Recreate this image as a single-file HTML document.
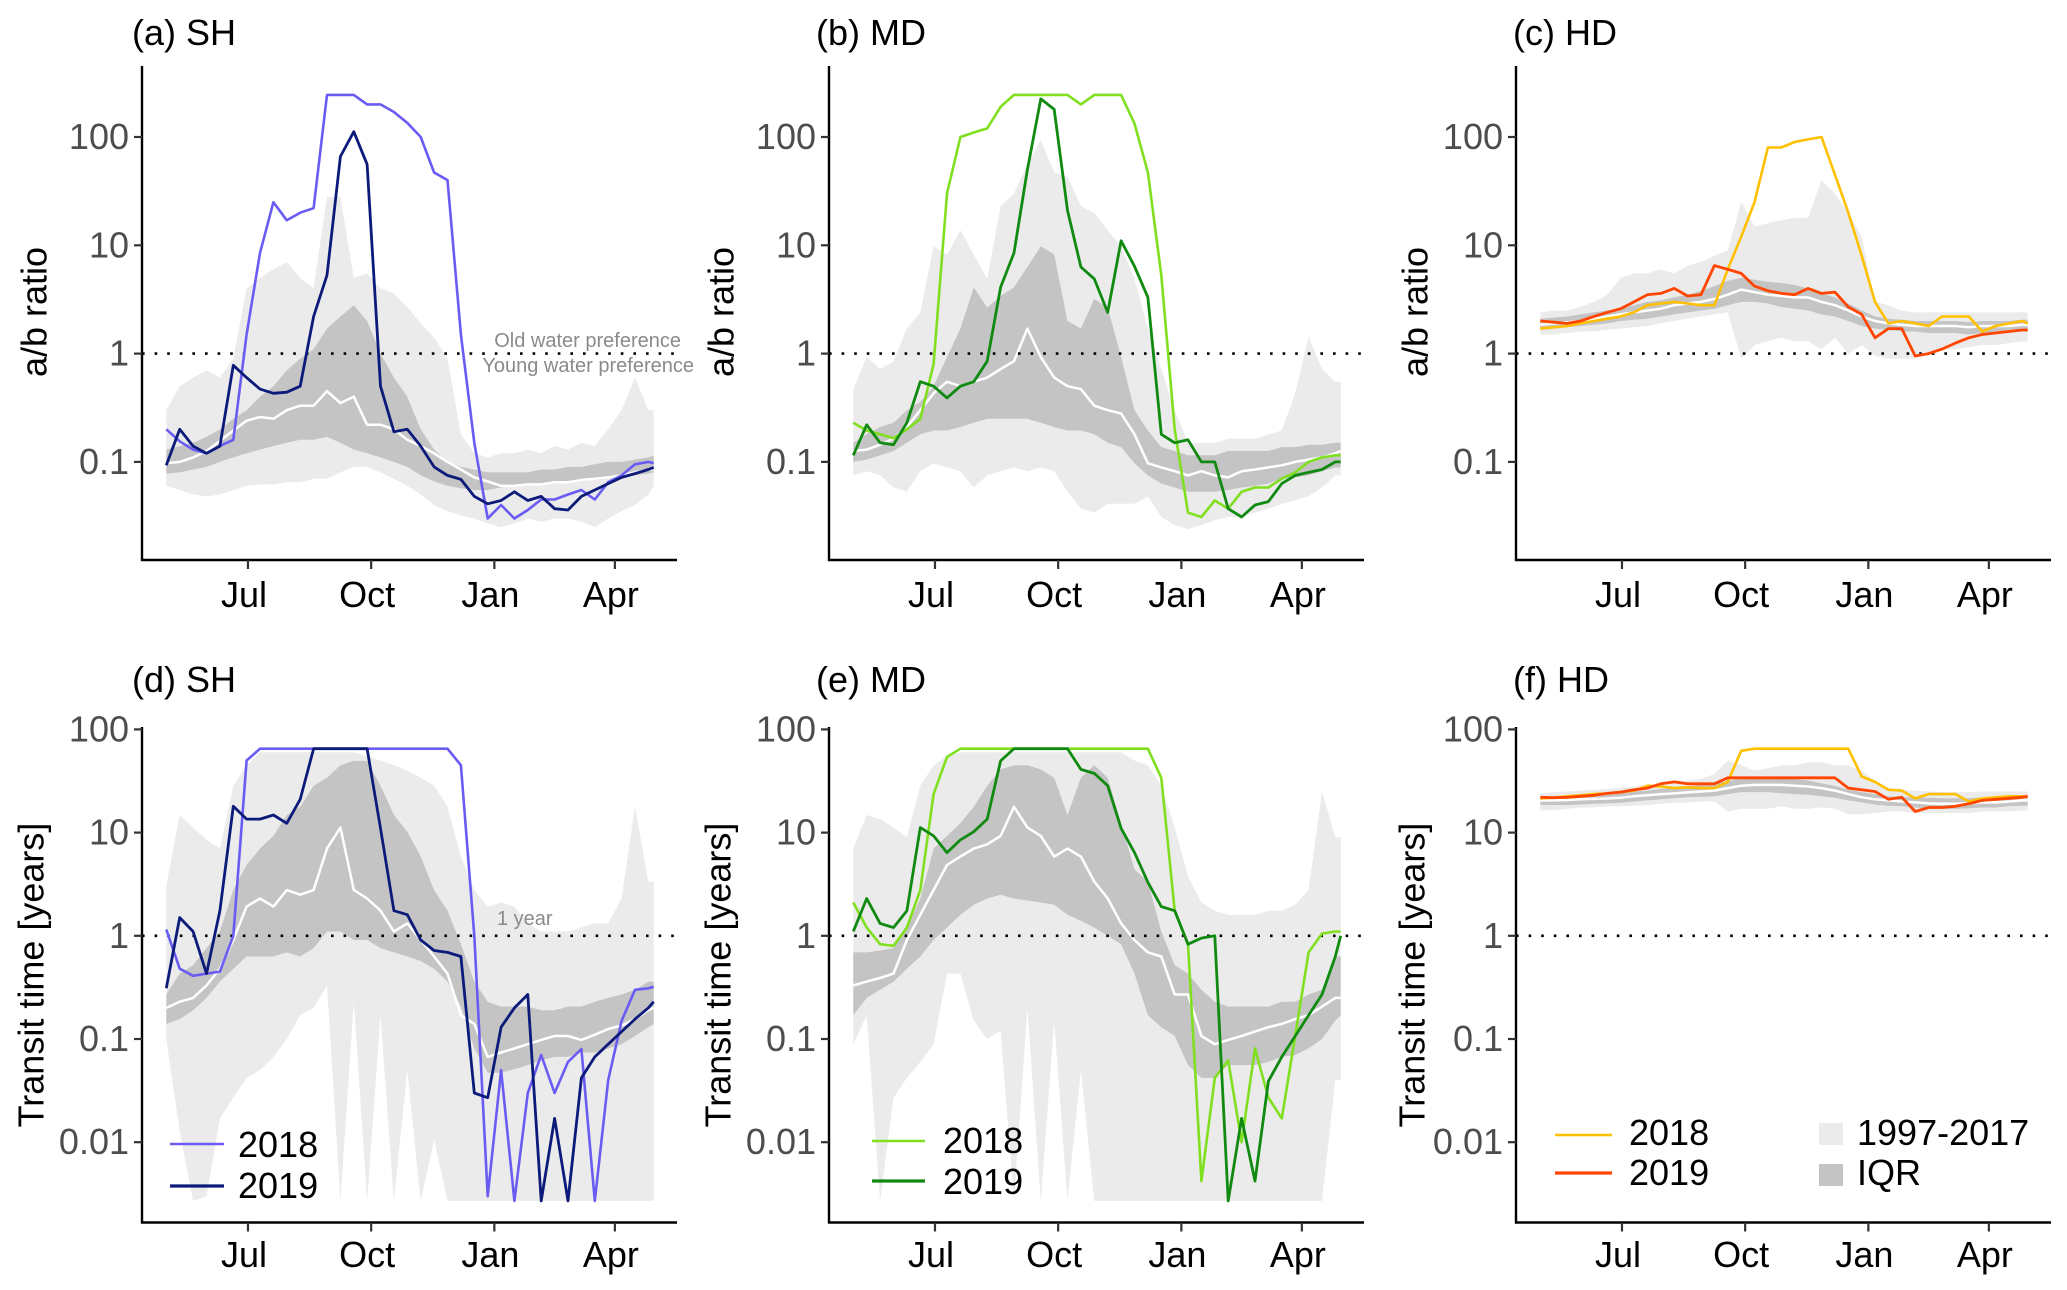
<!DOCTYPE html>
<html><head><meta charset="utf-8"><style>
html,body{margin:0;padding:0;background:#fff;}
svg{display:block;font-family:"Liberation Sans",Arial,sans-serif;}
</style></head><body>
<svg id="fig" width="2067" height="1290" viewBox="0 0 2067 1290" xmlns="http://www.w3.org/2000/svg"></svg>
<script>
const days=[0,10,20,30,40,50,60,70,80,90,100,110,120,130,140,150,160,170,180,190,200,210,220,230,240,250,260,270,280,290,300,310,320,330,340,350,360,364];
const monthLabels=["Jul","Oct","Jan","Apr"];
const monthDays=[61,153,245,335];
const ratioTicks=[100,10,1,0.1];
const ratioTickLabels=["100","10","1","0.1"];
const transitTicks=[100,10,1,0.1,0.01];
const transitTickLabels=["100","10","1","0.1","0.01"];

// (a) SH ratio
const a2018=[0.2,0.155,0.13,0.12,0.14,0.16,1.5,8.5,25,17,20,22,245,245,245,200,200,170,135,100,47,40,1.5,0.15,0.03,0.04,0.03,0.036,0.045,0.045,0.05,0.055,0.045,0.065,0.075,0.095,0.1,0.097];
const a2019=[0.093,0.2,0.14,0.12,0.14,0.78,0.6,0.47,0.43,0.44,0.5,2.2,5.3,66,112,56,0.5,0.19,0.2,0.14,0.09,0.075,0.069,0.048,0.041,0.044,0.053,0.044,0.048,0.037,0.036,0.048,0.055,0.063,0.072,0.078,0.085,0.089];
const aMed=[0.097,0.1,0.11,0.126,0.156,0.195,0.24,0.26,0.25,0.3,0.33,0.33,0.45,0.35,0.4,0.22,0.22,0.2,0.16,0.14,0.12,0.1,0.085,0.072,0.066,0.06,0.06,0.062,0.062,0.065,0.065,0.068,0.07,0.072,0.075,0.08,0.085,0.085];
const aQ75=[0.13,0.14,0.15,0.17,0.2,0.25,0.3,0.4,0.5,0.7,0.9,1.1,1.7,2.2,2.8,2.0,1.0,0.6,0.4,0.2,0.13,0.1,0.09,0.085,0.08,0.08,0.08,0.08,0.085,0.085,0.09,0.09,0.095,0.1,0.1,0.105,0.11,0.115];
const aQ25=[0.078,0.08,0.085,0.09,0.1,0.11,0.12,0.13,0.14,0.15,0.16,0.16,0.17,0.15,0.13,0.12,0.11,0.1,0.09,0.075,0.066,0.06,0.057,0.055,0.055,0.058,0.06,0.062,0.063,0.065,0.065,0.066,0.068,0.07,0.072,0.075,0.078,0.08];
const aMax=[0.3,0.5,0.6,0.7,0.6,0.9,4,5,6,7,5,4,28,28,5,5.5,4,3.6,2.7,1.9,1.4,0.9,0.18,0.12,0.11,0.12,0.12,0.13,0.12,0.14,0.13,0.15,0.14,0.2,0.3,0.6,0.3,0.3];
const aMin=[0.06,0.055,0.05,0.048,0.05,0.055,0.06,0.062,0.062,0.065,0.065,0.07,0.07,0.08,0.09,0.09,0.08,0.07,0.06,0.05,0.04,0.035,0.032,0.03,0.027,0.025,0.027,0.03,0.028,0.03,0.03,0.028,0.025,0.03,0.035,0.04,0.05,0.06];

// (b) MD ratio
const b2018=[0.23,0.195,0.18,0.165,0.2,0.25,0.8,30,100,110,120,190,245,245,245,245,245,200,245,245,245,133,47,5.3,0.2,0.034,0.031,0.044,0.037,0.053,0.058,0.058,0.07,0.08,0.1,0.11,0.115,0.115];
const b2019=[0.115,0.22,0.15,0.144,0.23,0.55,0.5,0.39,0.5,0.55,0.85,4.1,8.5,50,225,180,21,6.3,4.9,2.4,11,6.4,3.3,0.18,0.15,0.16,0.1,0.1,0.037,0.031,0.04,0.043,0.063,0.075,0.08,0.085,0.1,0.1];
const bMed=[0.126,0.13,0.144,0.164,0.21,0.3,0.43,0.55,0.5,0.55,0.6,0.72,0.85,1.7,0.93,0.6,0.5,0.47,0.33,0.3,0.28,0.18,0.097,0.089,0.082,0.075,0.082,0.075,0.072,0.082,0.085,0.089,0.093,0.1,0.105,0.11,0.12,0.126];
const bQ75=[0.15,0.18,0.21,0.23,0.3,0.36,0.5,0.93,1.7,4.1,2.65,3.4,4.1,6.3,9.8,8.2,2.0,1.7,3.2,2.65,0.93,0.3,0.195,0.137,0.126,0.115,0.115,0.115,0.126,0.126,0.126,0.126,0.137,0.137,0.144,0.144,0.15,0.15];
const bQ25=[0.1,0.105,0.115,0.126,0.15,0.18,0.195,0.195,0.21,0.23,0.25,0.25,0.25,0.25,0.23,0.21,0.195,0.195,0.18,0.15,0.137,0.097,0.075,0.063,0.058,0.053,0.053,0.053,0.055,0.058,0.06,0.063,0.07,0.072,0.075,0.082,0.089,0.089];
const bMax=[0.47,0.93,0.72,0.85,1.7,2.4,9.8,8.2,13.8,8.2,4.9,23,30,56,94,47,43,23,20,13.8,9.8,4.9,1.7,0.72,0.3,0.15,0.15,0.15,0.164,0.164,0.164,0.18,0.195,0.43,1.44,0.72,0.55,0.55];
const bMin=[0.075,0.082,0.075,0.058,0.053,0.082,0.097,0.089,0.082,0.058,0.075,0.082,0.089,0.082,0.089,0.082,0.053,0.037,0.034,0.041,0.041,0.041,0.048,0.031,0.026,0.024,0.026,0.029,0.031,0.031,0.034,0.037,0.041,0.044,0.048,0.058,0.075,0.075];

// (c) HD ratio
const c2018=[1.7,1.75,1.8,1.9,2.0,2.1,2.2,2.4,2.8,2.9,3.0,2.9,2.8,2.8,6,12,25,80,80,90,95,100,45,20,8,3,1.9,2.0,1.9,1.8,2.2,2.2,2.2,1.6,1.8,1.9,2.0,1.9];
const c2019=[2.0,1.95,1.9,2.0,2.2,2.4,2.6,3.0,3.5,3.6,4.0,3.4,3.5,6.5,6.0,5.5,4.2,3.8,3.6,3.5,4.0,3.6,3.7,2.7,2.3,1.4,1.7,1.7,0.95,1.0,1.1,1.25,1.4,1.5,1.55,1.6,1.65,1.65];
const cMed=[1.85,1.9,1.95,2.0,2.1,2.2,2.3,2.4,2.5,2.6,2.8,2.9,3.0,3.2,3.5,3.9,3.7,3.5,3.4,3.3,3.3,3.0,2.8,2.5,2.2,2.0,1.9,1.85,1.8,1.8,1.8,1.8,1.75,1.8,1.8,1.8,1.85,1.85];
const cQ75=[2.1,2.15,2.2,2.3,2.4,2.5,2.6,2.8,3.0,3.1,3.3,3.5,3.8,4.2,4.7,5.0,4.8,4.6,4.5,4.3,4.0,3.6,3.3,2.9,2.5,2.2,2.1,2.05,2.0,2.0,2.0,2.0,1.95,2.0,2.0,2.0,2.05,2.05];
const cQ25=[1.65,1.7,1.75,1.8,1.85,1.9,2.0,2.05,2.1,2.2,2.3,2.4,2.5,2.6,2.8,3.0,3.0,2.9,2.7,2.6,2.5,2.3,2.2,2.0,1.8,1.7,1.65,1.6,1.6,1.55,1.55,1.55,1.5,1.55,1.55,1.6,1.6,1.6];
const cMax=[2.4,2.5,2.5,2.7,3.0,3.5,5,5.5,5.5,6,5.5,6.5,7,8,9,25,15,16,17,18,18,40,30,20,12,3,2.8,2.5,2.4,2.4,2.4,2.4,2.4,2.4,2.4,2.4,2.4,2.4];
const cMin=[1.5,1.5,1.55,1.6,1.6,1.65,1.7,1.75,1.8,1.9,2.0,2.1,2.2,2.3,2.4,0.9,1.2,1.3,1.4,1.3,1.3,1.1,1.4,1.0,1.2,0.95,0.9,0.9,0.9,1.0,1.1,1.1,1.15,1.2,1.2,1.25,1.3,1.3];

// (d) SH transit time
const d2018=[1.15,0.48,0.41,0.43,0.45,1.0,50,65,65,65,65,65,65,65,65,65,65,65,65,65,65,65,45,1.0,0.003,0.05,0.0027,0.03,0.07,0.03,0.06,0.08,0.0027,0.04,0.15,0.3,0.31,0.32];
const d2019=[0.31,1.5,1.1,0.43,1.75,18,13.5,13.5,14.8,12.3,21,65,65,65,65,65,11,1.75,1.6,0.91,0.72,0.69,0.63,0.03,0.027,0.13,0.2,0.27,0.0027,0.017,0.0027,0.042,0.067,0.089,0.118,0.156,0.2,0.23];
const dMed=[0.2,0.23,0.25,0.33,0.48,0.91,1.92,2.3,1.92,2.78,2.5,2.78,7,11.2,2.78,2.3,1.75,1.1,1.32,0.91,0.63,0.43,0.17,0.14,0.067,0.074,0.081,0.089,0.098,0.107,0.107,0.098,0.11,0.125,0.135,0.156,0.19,0.2];
const dQ75=[0.27,0.43,0.52,0.76,1.1,2.78,4.85,7,9.3,14.8,17.8,28.5,34,45,49.5,49.5,28.5,14.8,10.2,5.85,2.78,1.75,0.83,0.36,0.23,0.206,0.206,0.206,0.19,0.19,0.206,0.206,0.23,0.25,0.27,0.3,0.36,0.36];
const dQ25=[0.14,0.156,0.19,0.25,0.36,0.48,0.63,0.63,0.63,0.69,0.63,0.76,1.1,1.1,0.91,0.91,0.76,0.69,0.63,0.57,0.48,0.36,0.206,0.081,0.047,0.047,0.051,0.056,0.062,0.067,0.067,0.074,0.074,0.081,0.089,0.107,0.13,0.14];
const dMax=[3.05,14.8,11.2,8.5,7,28.5,45,60,60,60,60,60,60,60,60,55,50,45,40,34,28.5,17.8,5.85,2.78,1.92,2.1,1.92,1.32,1.1,1.1,1.1,1.2,1.32,1.32,2.3,17.8,3.35,3.35];
const dMin=[0.1,0.0127,0.0027,0.003,0.017,0.027,0.042,0.05,0.067,0.1,0.17,0.2,0.33,0.0027,0.23,0.0027,0.17,0.0027,0.05,0.0027,0.0105,0.0027,0.0027,0.0027,0.0027,0.0027,0.0027,0.0027,0.0027,0.0027,0.0027,0.0027,0.0027,0.0027,0.0027,0.0027,0.0027,0.0027];

// (e) MD transit time
const e2018=[2.1,1.2,0.83,0.8,1.2,2.78,23.6,54,65,65,65,65,65,65,65,65,65,65,65,65,65,65,65,34,1.75,0.83,0.0042,0.042,0.062,0.01,0.081,0.027,0.017,0.107,0.69,1.05,1.1,1.1];
const e2019=[1.1,2.3,1.32,1.2,1.75,11.2,9.3,6.4,8.5,10.2,13.5,49.5,65,65,65,65,65,41,37.5,28.5,11,6.4,3.3,1.92,1.75,0.83,0.95,1.0,0.0027,0.017,0.0042,0.039,0.067,0.107,0.17,0.27,0.63,1.0];
const eMed=[0.33,0.36,0.39,0.43,0.91,1.6,2.78,4.85,5.85,7,7.7,9.3,17.8,11.2,9.3,5.85,7,5.85,3.35,2.3,1.32,0.91,0.69,0.63,0.27,0.27,0.107,0.089,0.098,0.107,0.118,0.13,0.14,0.156,0.17,0.206,0.25,0.25];
const eQ75=[0.69,0.69,0.72,0.76,1.2,2.3,7,9.3,12.3,17.8,28.5,41,45,45,41,34,14.8,34,45,34,12.3,4.4,3.35,1.1,0.52,0.43,0.3,0.23,0.206,0.206,0.206,0.206,0.23,0.23,0.27,0.3,0.63,0.63];
const eQ25=[0.17,0.25,0.3,0.36,0.48,0.63,0.91,1.2,1.6,2.0,2.3,2.5,2.3,2.2,2.1,2.0,1.6,1.4,1.2,1.0,0.83,0.43,0.17,0.13,0.107,0.056,0.042,0.042,0.056,0.056,0.056,0.06,0.067,0.07,0.081,0.1,0.15,0.17];
const eMax=[7,14.8,13.5,11.2,9,28.5,45,55,60,60,60,60,60,60,60,60,60,60,60,60,60,50,45,28.5,11.2,3.8,2.1,1.75,1.6,1.6,1.6,1.75,1.75,2.0,2.78,25,9,9];
const eMin=[0.089,0.17,0.0027,0.027,0.042,0.06,0.089,0.43,0.43,0.15,0.1,0.12,0.0027,0.2,0.0027,0.15,0.0027,0.05,0.0027,0.0027,0.0027,0.0027,0.0027,0.0027,0.0027,0.0027,0.0027,0.0027,0.0027,0.0027,0.0027,0.0027,0.0027,0.0027,0.0027,0.0027,0.04,0.04];

// (f) HD transit time
const f2018=[21.4,21.8,22.5,23,23.6,24,24.7,25.5,28.5,28,27,27.5,27,27,31,62,65,65,65,65,65,65,65,65,35,31,26,25.5,21.4,23.6,23.6,23.6,20,21.4,22,22.5,22.5,22.5];
const f2019=[22,21.8,22,22.5,23,24,24.7,26,27,29.7,31,29.7,29.7,29.7,34,34,34,34,34,34,34,34,34,27,26,25,21,22,16,17.5,17.5,18,19,20.5,21,21.5,22,22.5];
const fMed=[20.5,20.5,20.7,21,21.2,21.4,21.8,22.5,23,23.6,24,24.5,25,25.5,27,28.5,29,29,29,28.5,28,27,25.5,23.6,22,21,20.5,20,19.6,19.2,19,19,19.2,19.6,19.6,20,20.5,20.5];
const fQ75=[22.5,22.5,22.8,23,23.3,23.6,24,25,25.5,26.5,27,28,29,30,31.5,34,34,34,34,33,32,30,28.5,26,24.7,23.6,22.5,22,22,21.8,21.5,21.5,21.5,22,22,22.5,22.5,22.5];
const fQ25=[18.5,18.5,18.5,18.7,19,19.2,19.5,20,20.5,21,21.5,22,22.2,22.5,23.6,24.7,24.7,24.7,24,23.6,23.3,22.5,21.8,20.5,19.6,18.7,18.2,18,17.5,17.2,17,17,17.2,17.5,17.5,18,18.2,18.2];
const fMax=[24,24.5,25,25.5,26,26.5,27,28,29,30,31,32,33,37,50,45,40,42,45,45,48,48,45,45,40,32,27,26,25.5,25,24.7,24.7,24.7,25,25,25,25,25];
const fMin=[16.5,16.5,17,17.5,17.5,18,18,18.2,18.5,19,19.5,19.5,20,20,16,17,17,17,18,17,17,17.5,17,15,15,15.5,16,16,15.5,15.5,15.5,15.5,15.5,16,16,16,16.5,16.5];

const NS="http://www.w3.org/2000/svg";
const svg=document.getElementById('fig');
function mk(tag,attrs,parent){const e=document.createElementNS(NS,tag);for(const k in attrs)e.setAttribute(k,attrs[k]);(parent||svg).appendChild(e);return e;}
const COL=687;
function xScale(d,col){return 166.3+1.339*d+col*COL;}
function yScale(v,row){return row===0?353.6-108.3*Math.log10(v):935.8-103.2*Math.log10(v);}

const panels=[
 {key:'a',title:'(a) SH',col:0,row:0,s18:a2018,s19:a2019,med:aMed,q25:aQ25,q75:aQ75,mn:aMin,mx:aMax,c18:'#6a5cf2',c19:'#0c1a7a'},
 {key:'b',title:'(b) MD',col:1,row:0,s18:b2018,s19:b2019,med:bMed,q25:bQ25,q75:bQ75,mn:bMin,mx:bMax,c18:'#80e020',c19:'#108a10'},
 {key:'c',title:'(c) HD',col:2,row:0,s18:c2018,s19:c2019,med:cMed,q25:cQ25,q75:cQ75,mn:cMin,mx:cMax,c18:'#ffc000',c19:'#ff4500'},
 {key:'d',title:'(d) SH',col:0,row:1,s18:d2018,s19:d2019,med:dMed,q25:dQ25,q75:dQ75,mn:dMin,mx:dMax,c18:'#6a5cf2',c19:'#0c1a7a'},
 {key:'e',title:'(e) MD',col:1,row:1,s18:e2018,s19:e2019,med:eMed,q25:eQ25,q75:eQ75,mn:eMin,mx:eMax,c18:'#80e020',c19:'#108a10'},
 {key:'f',title:'(f) HD',col:2,row:1,s18:f2018,s19:f2019,med:fMed,q25:fQ25,q75:fQ75,mn:fMin,mx:fMax,c18:'#ffc000',c19:'#ff4500'}
];

function bandPts(top,bot,p){
  const a=[];
  for(let i=0;i<days.length;i++)a.push(xScale(days[i],p.col).toFixed(1)+','+yScale(top[i],p.row).toFixed(1));
  for(let i=days.length-1;i>=0;i--)a.push(xScale(days[i],p.col).toFixed(1)+','+yScale(bot[i],p.row).toFixed(1));
  return a.join(' ');
}
function linePts(vals,p){
  return days.map((d,i)=>xScale(d,p.col).toFixed(1)+','+yScale(vals[i],p.row).toFixed(1)).join(' ');
}

panels.forEach(p=>{
  const g=mk('g',{});
  
  
  const off=p.col*COL;
  const axX=142+off, right=677+off;
  const top=p.row===0?66:727, bottom=p.row===0?560:1222.5;
  const t=mk('text',{x:(p.col===2?139:132)+off+(p.col===1?-3:0),y:p.row===0?45:692,'font-size':36,fill:'#000'},g);
  t.textContent=p.title;
  
  
  const full=mk('polygon',{points:bandPts(p.mx,p.mn,p),fill:'#ebebeb'},g);
  
  
  const iqr=mk('polygon',{points:bandPts(p.q75,p.q25,p),fill:'#c4c4c4'},g);
  
  
  const med=mk('polyline',{points:linePts(p.med,p),fill:'none',stroke:'#fff','stroke-width':2.5,'stroke-linejoin':'round'},g);
  
  
  const y1=yScale(1,p.row);
  const ref=mk('line',{x1:axX,x2:right,y1:y1,y2:y1,stroke:'#000','stroke-width':2.6,'stroke-dasharray':'2.6 10'},g);
  
  
  const l18=mk('polyline',{points:linePts(p.s18,p),fill:'none',stroke:p.c18,'stroke-width':2.6,'stroke-linejoin':'round'},g);
  
  
  const l19=mk('polyline',{points:linePts(p.s19,p),fill:'none',stroke:p.c19,'stroke-width':2.8,'stroke-linejoin':'round'},g);
  
  
  const ya=mk('line',{x1:axX,x2:axX,y1:top,y2:bottom+1,stroke:'#000','stroke-width':2.4},g);
  
  
  const xa=mk('line',{x1:axX-1,x2:right,y1:bottom,y2:bottom,stroke:'#000','stroke-width':2.4},g);
  
  
  const ticks=p.row===0?ratioTicks:transitTicks;
  const tl=p.row===0?ratioTickLabels:transitTickLabels;
  ticks.forEach((v,i)=>{
    const y=yScale(v,p.row);
    const tk=mk('line',{x1:axX-8,x2:axX,y1:y,y2:y,stroke:'#333','stroke-width':2.2},g);
    
    
    const lb=mk('text',{x:axX-13,y:y+12,'font-size':36,fill:'#4d4d4d','text-anchor':'end'},g);
    lb.textContent=tl[i];
    
    
  });
  monthDays.forEach((d,i)=>{
    const x=xScale(d,p.col);
    const tk=mk('line',{x1:x,x2:x,y1:bottom,y2:bottom+9,stroke:'#333','stroke-width':2.2},g);
    
    
    const lb=mk('text',{x:x-4,y:p.row===0?607:1267,'font-size':36,fill:'#000','text-anchor':'middle'},g);
    lb.textContent=monthLabels[i];
    
    
  });
  const cy=p.row===0?312:975;
  const cx=(p.row===0?34:31)+off+(p.col===2?7:0);
  const yt=mk('text',{x:cx,y:cy,'font-size':36,fill:'#000','text-anchor':'middle',transform:'rotate(-90 '+cx+' '+cy+')','dominant-baseline':'central'},g);
  yt.textContent=p.row===0?'a/b ratio':'Transit time [years]';
  
  
});

function txt(x,y,s,size,fill,anchor,name){
  const e=mk('text',{x:x,y:y,'font-size':size,fill:fill,'text-anchor':anchor});
  e.textContent=s;
  
  
  return e;
}
txt(681,347,'Old water preference',20,'#8a8a8a','end','old-water-label');
txt(694,372,'Young water preference',20,'#8a8a8a','end','young-water-label');
txt(497,925,'1 year',20,'#8a8a8a','start','one-year-label');

const legends=[
 {x1:170,x2:224,tx:238,y18:1144,y19:1186,b18:1157,b19:1198,c18:'#6a5cf2',c19:'#0c1a7a',k:'d'},
 {x1:872,x2:925,tx:943,y18:1141,y19:1181,b18:1153,b19:1194,c18:'#80e020',c19:'#108a10',k:'e'},
 {x1:1555,x2:1612,tx:1629,y18:1135,y19:1173,b18:1145,b19:1185,c18:'#ffc000',c19:'#ff4500',k:'f'}
];
legends.forEach(L=>{
  const a=mk('line',{x1:L.x1,x2:L.x2,y1:L.y18,y2:L.y18,stroke:L.c18,'stroke-width':2.6});
  
  
  const b=mk('line',{x1:L.x1,x2:L.x2,y1:L.y19,y2:L.y19,stroke:L.c19,'stroke-width':3.2});
  
  
  txt(L.tx,L.b18,'2018',36,'#000','start','legend-label-2018-'+L.k);
  txt(L.tx,L.b19,'2019',36,'#000','start','legend-label-2019-'+L.k);
});
const sq1=mk('rect',{x:1819,y:1123,width:24,height:22,fill:'#ebebeb'});


const sq2=mk('rect',{x:1819,y:1164,width:24,height:22,fill:'#c4c4c4'});


txt(1857,1145,'1997-2017',36,'#000','start','legend-label-range');
txt(1857,1185,'IQR',36,'#000','start','legend-label-iqr');
</script>
</body></html>
